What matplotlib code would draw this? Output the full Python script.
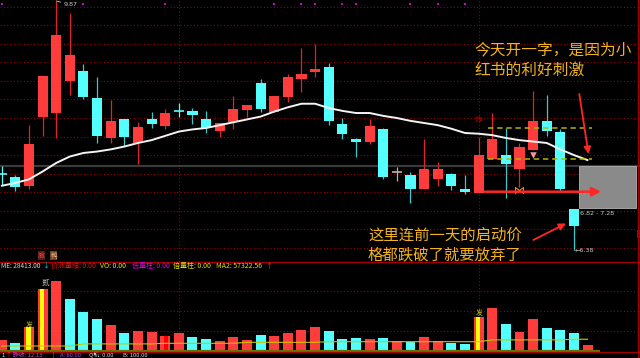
import matplotlib
matplotlib.use('Agg')
import matplotlib.pyplot as plt
from matplotlib.patches import Rectangle
from matplotlib.lines import Line2D

CJK = ['Noto Sans CJK SC', 'DejaVu Sans']
LAT = ['DejaVu Sans']
plt.rcParams['font.family'] = CJK

# ---------------- data ----------------
opens  = [7.44, 7.40, 7.28, 8.24, 8.30, 8.75, 8.89, 8.51, 7.95, 8.21,
          7.88, 8.22, 8.12, 8.33, 8.33, 8.21, 8.05, 8.17, 8.34, 8.72,
          8.32, 8.52, 8.77, 8.87, 8.94, 8.15, 7.93, 7.90, 8.07, 7.47,
          7.43, 7.24, 7.38, 7.44, 7.23, 7.18, 7.66, 7.71, 7.52, 7.78,
          8.19, 8.04, 6.96]
highs  = [7.56, 7.43, 8.13, 8.82, 9.87, 9.70, 8.99, 8.80, 8.48, 8.21,
          8.18, 8.31, 8.36, 8.44, 8.37, 8.33, 8.16, 8.54, 8.41, 8.78,
          8.54, 8.85, 9.21, 9.27, 9.00, 8.23, 7.95, 8.21, 8.09, 7.54,
          7.47, 7.93, 7.61, 7.46, 7.43, 7.96, 8.30, 8.09, 7.88, 8.61,
          8.55, 8.08, 6.96]
lows   = [7.29, 7.20, 7.23, 7.98, 7.95, 8.55, 8.49, 7.88, 7.88, 7.84,
          7.59, 8.09, 8.08, 8.25, 8.15, 8.02, 7.96, 8.08, 8.24, 8.31,
          8.32, 8.46, 8.60, 8.80, 8.13, 7.93, 7.69, 7.86, 7.38, 7.35,
          7.04, 7.24, 7.28, 7.22, 7.16, 7.18, 7.66, 7.11, 7.27, 7.78,
          7.98, 7.21, 6.38]
closes = [7.44, 7.26, 7.86, 8.82, 9.40, 9.11, 8.53, 7.98, 8.19, 7.96,
          8.10, 8.14, 8.30, 8.33, 8.27, 8.09, 8.16, 8.35, 8.41, 8.36,
          8.54, 8.80, 8.85, 8.92, 8.19, 8.00, 7.90, 8.12, 7.40, 7.47,
          7.24, 7.52, 7.52, 7.28, 7.19, 7.71, 7.93, 7.59, 7.83, 8.19,
          8.05, 7.23, 6.71]
ma_price = [7.28, 7.32, 7.37, 7.48, 7.60, 7.69, 7.74, 7.76, 7.79, 7.83,
            7.88, 7.92, 7.98, 8.04, 8.07, 8.09, 8.13, 8.17, 8.21, 8.25,
            8.32, 8.38, 8.43, 8.43, 8.37, 8.33, 8.30, 8.30, 8.26, 8.23,
            8.19, 8.16, 8.13, 8.08, 8.02, 8.01, 7.99, 7.95, 7.92, 7.90,
            7.88, 7.79, 7.71, 7.64]
volumes = [53500, 37000, 117000, 307000, 350000, 257000, 193500, 158500, 128500, 90000,
           97000, 93500, 75000, 90000, 67000, 60000, 48500, 67000, 53500, 78500,
           75000, 90000, 105000, 117000, 98500, 58500, 62000, 58500, 63500, 47000,
           43500, 67000, 47000, 37000, 33500, 170000, 212000, 133500, 93500, 158500,
           115000, 105000, 88500, 28413]
vol_up = [1, 0, 1, 1, 1, 0, 0, 0, 1, 0,
          1, 1, 1, 1, 0, 0, 1, 1, 1, 0,
          1, 1, 1, 1, 0, 0, 0, 1, 0, 1,
          0, 1, 1, 0, 0, 1, 1, 0, 1, 1,
          0, 0, 0, 1]
vol_ma = [23500, 23500, 23500, 23500, 23500, 23500, 34000, 34000, 34000, 34000,
          34000, 34000, 37000, 37000, 37000, 37000, 37000, 37000, 42000, 42000,
          42000, 42000, 42000, 42000, 45000, 45000, 45000, 45000, 45000, 45000,
          45000, 45000, 45000, 45000, 45000, 45000, 54000, 54000, 54000, 54000,
          54000, 54000, 57322.56, 57322.56]
price_grid = [9.79, 9.53, 9.27, 9.01, 8.75, 8.49, 8.23, 7.97, 7.71, 7.45, 7.19, 6.93, 6.67, 6.41]
vol_grid = [100000, 200000, 300000]
ref_price = 7.56
dashed_levels = [8.09, 7.66]
signal_days = [0, 6, 12, 20, 22, 23, 25, 26, 30, 32, 34]
month_starts = [13, 35]
striped_vol_days = [2, 3, 35]
forecast_range = (6.82, 7.28)

# ---------------- layout helpers ----------------
W, H = 640, 358
X0, DX = 1.7, 13.626          # pixel x of first candle, pixels per day
P0, DP = 9.884, 0.014016      # price at pixel y=0, price per pixel
VB, VS = 350.7, 5000          # volume baseline pixel, volume per pixel


def ix(px):
    return (px - X0) / DX


def pr(py):
    return P0 - DP * py


def vv(py):
    return (VB - py) * VS


def ff(px, py):
    return (px / W, 1 - py / H)


RED, CYAN = '#ff3c3c', '#54ffff'
GRID = '#9a0000'
GOLD = '#f3b31b'

fig = plt.figure(figsize=(6.4, 3.58), dpi=100, facecolor='black')
PB, VBOT = 261.7, 352.0
ax = fig.add_axes([0, 1 - PB / H, 1, PB / H])
axv = fig.add_axes([0, 1 - VBOT / H, 1, (VBOT - PB) / H])
xl = (ix(0), ix(W))
for a in (ax, axv):
    a.set_facecolor('black')
    a.set_xlim(*xl)
    a.axis('off')
ax.set_ylim(pr(PB), pr(0))
axv.set_ylim(vv(VBOT), vv(PB))

# ---------------- grid & frame ----------------
ax.hlines(price_grid, xl[0], ix(637), colors=GRID, linestyles=(0, (1, 2)), lw=0.8, zorder=1)
axv.hlines(vol_grid, xl[0], ix(637), colors=GRID, linestyles=(0, (1, 2)), lw=0.8, zorder=1)
for a in (ax, axv):
    a.vlines(month_starts, *a.get_ylim(), colors=GRID, linestyles=(0, (1, 2)), lw=0.8, zorder=1)
ax.axhline(ref_price, color='#3a3a3a', lw=1.6, zorder=1.5)
for (x0, y0, x1, y1) in [(0, PB, W, PB), (0, VBOT, W, VBOT), (637.7, 0, 637.7, H)]:
    fig.add_artist(Line2D([x0 / W, x1 / W], [1 - y0 / H, 1 - y1 / H],
                          transform=fig.transFigure, color='#a00000', lw=1.0))
fig.patches.append(Rectangle(ff(637, 238), 3 / W, 8 / H, transform=fig.transFigure,
                             facecolor='#2a2a8a', edgecolor='none'))

# ---------------- candles ----------------
doji_colors = {29: '#b4b4b4'}
bw = 0.74
for i, (o, h, l, c) in enumerate(zip(opens, highs, lows, closes)):
    if c > o:
        col, wick = RED, '#e02424'
    elif c < o:
        col, wick = CYAN, '#3cc8c8'
    else:
        col = doji_colors.get(i, CYAN)
        wick = col
    ax.vlines(i, l, h, colors=wick, lw=0.9, zorder=3)
    if c != o:
        ax.add_patch(Rectangle((i - bw / 2, min(o, c)), bw, abs(c - o),
                               facecolor=col, edgecolor='none', zorder=4))
    else:
        ax.hlines(o, i - bw / 2, i + bw / 2, colors=col, lw=1.2, zorder=4)

ax.plot(range(len(ma_price)), ma_price, color='#f4f4f4', lw=1.4, zorder=5,
        solid_capstyle='round')

# forecast box, dashed levels, markers
ax.add_patch(Rectangle((ix(579), pr(208.3)), ix(636) - ix(579), pr(165.7) - pr(208.3),
                       facecolor='#8a8a8a', edgecolor='#b0b0b0', lw=0.6, zorder=2))
ax.hlines(dashed_levels, ix(488), ix(592), colors='#b4b400', linestyles=(0, (3.5, 2.5)),
          lw=1.1, zorder=6)
ax.scatter(signal_days, [pr(4)] * len(signal_days), marker='s', s=3.5, color='#d000d0',
           zorder=6, linewidths=0)
ax.text(35, pr(120), '炸', color='#c80000', fontsize=5.5, ha='center', va='center', zorder=6)
ax.scatter([39], [pr(155)], marker='v', s=22, color='#ff8fa0', zorder=6, linewidths=0)
ax.scatter([38], [pr(190)], marker=r'$\bowtie$', s=40, color='#ffa020', zorder=7, linewidths=0)

# high / low / range labels
imax = highs.index(max(highs))
ax.annotate(f'{max(highs):.2f}', xy=(imax, max(highs)), xytext=(ix(63.5), pr(4.5)),
            color='#c8c8c8', fontsize=4.6, family=LAT, ha='left', va='center',
            arrowprops=dict(arrowstyle='-', color='#c8c8c8', lw=0.6, shrinkA=0, shrinkB=0))
imin = lows.index(min(lows))
ax.text(imin + 0.05, min(lows), '\u2190' + f'{min(lows):.2f}', color='#c8c8c8',
        fontsize=4.6, family=LAT, ha='left', va='center')
ax.text(ix(580), pr(213.7), f'{forecast_range[0]:.2f} - {forecast_range[1]:.2f}',
        color='#c8c8c8', fontsize=4.6, family=LAT, ha='left', va='center')

# arrows
def arrow(tail, tip, lw, ms):
    ax.annotate('', xy=(ix(tip[0]), pr(tip[1])), xytext=(ix(tail[0]), pr(tail[1])),
                arrowprops=dict(arrowstyle='-|>', color='#ff2626', lw=lw, mutation_scale=ms,
                                shrinkA=0, shrinkB=0), zorder=8)

arrow((485, 191.7), (601, 191.7), 1.8, 13)
arrow((579.3, 94), (588.5, 154), 1.3, 10)
arrow((533.3, 240), (566, 223.5), 1.3, 10)

# annotation texts
fig.text(*ff(474, 50), '今天开一字，是因为小', color=GOLD, fontsize=11.3, ha='left', va='center')
fig.text(*ff(474, 70), '红书的利好刺激', color=GOLD, fontsize=11.3, ha='left', va='center')
fig.text(*ff(368, 235), '这里连前一天的启动价', color=GOLD, fontsize=11.1, ha='left', va='center')
fig.text(*ff(368, 255), '格都跌破了就要放弃了', color=GOLD, fontsize=11.1, ha='left', va='center')

# ---------------- volume ----------------
vcols = [RED if u else CYAN for u in vol_up]
axv.bar(range(len(volumes)), volumes, width=0.73, color=vcols, zorder=3)
for i in striped_vol_days:
    axv.bar(i - 0.05, volumes[i], width=0.34, color='#ffff00', zorder=4)
axv.bar(12 + 0.05, volumes[12], width=0.3, color='#ff0000', zorder=4)
axv.hlines(0, xl[0], ix(600), colors='#707000', lw=1.6, zorder=4)
axv.plot(range(len(vol_ma)), vol_ma, color='#c8c800', lw=0.8, zorder=5)
for i, dy in [(2, 1.2), (35, 2.2)]:
    axv.annotate('发', xy=(i, volumes[i]), xytext=(0.5, dy), textcoords='offset points',
                 color='#c8c800', fontsize=5, ha='center', va='center', zorder=6)
axv.annotate('贰', xy=(3, volumes[3]), xytext=(1.8, 4.5), textcoords='offset points',
             color='#c8c8c8', fontsize=5.5, ha='center', va='center', zorder=6)

# indicator header row
fig.text(*ff(41.5, 255.5), '涨', color='#ff5050', fontsize=4.8, ha='center', va='center',
         bbox=dict(boxstyle='square,pad=0.1', facecolor='#5a1a1a', edgecolor='none'))
fig.text(*ff(53.5, 255.5), '鸭', color='#f0b080', fontsize=4.8, ha='center', va='center',
         bbox=dict(boxstyle='square,pad=0.1', facecolor='#6a4428', edgecolor='none'))
fig.text(*ff(0.6, 266), f'ME: {volumes[-1]:.2f}', color='#d8d8d8', fontsize=4.7,
         ha='left', va='center')
row = [(42.0, '\u2193', '#00d8d8'),
       (50.7, '价涨量缩: 0.00', '#e01818'),
       (100.0, 'VO: 0.00', '#e8e800'),
       (131.5, '低量柱: 0.00', '#e000e0'),
       (173.3, '倍量柱: 0.00', '#e0e000'),
       (216.0, f'MA2: {vol_ma[-1]:.2f}', '#e0e000'),
       (265.5, '\u2191', '#ff3030')]
for x, s, c in row:
    fig.text(*ff(x, 266), s, color=c, fontsize=5, ha='left', va='center')

# bottom status row
bottom = [(1.0, '1', '#d8d8d8'), (5.0, '\u2191', '#ff3030'), (12.7, '昨收: 12.13', '#e040e0'),
          (52.0, '|', '#00d8d8'), (60.0, 'A: 80.00', '#b040ff'), (89.0, 'Q轨: 0.00', '#d8d8d8'),
          (123.0, 'B: 100.00', '#d8d8d8')]
for x, s, c in bottom:
    fig.text(*ff(x, 357.6), s, color=c, fontsize=4.2, ha='left', va='bottom')

fig.savefig('out.png', dpi=100, facecolor='black')
